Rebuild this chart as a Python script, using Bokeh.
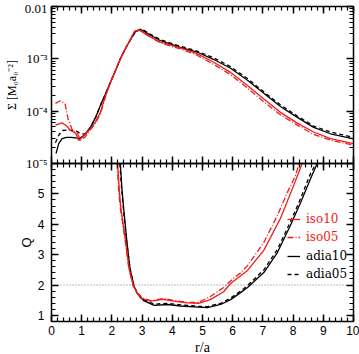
import math
from bokeh.plotting import figure
from bokeh.core.properties import value
from bokeh.models import (Range1d, LogScale, LinearAxis, LogAxis, FixedTicker,
                          CustomJSTickFormatter, Legend, LegendItem, BoxAnnotation)
from bokeh.embed import file_html
from bokeh.resources import INLINE

# ---------------- data ----------------
# Surface density Sigma(r)
r_adia10_s = [0.15, 0.24, 0.35, 0.5, 0.65, 0.8, 0.93, 1.1, 1.29, 1.46, 1.62, 1.79, 1.95, 2.12, 2.28, 2.45,
              2.62, 2.78, 2.95, 3.11, 3.28, 3.6, 4.0, 4.27, 4.82, 5.36, 5.93, 6.49, 7.03, 7.58, 8.14, 8.68, 9.24, 10.0]
s_adia10 = [1.55e-5, 2.4e-5, 3.0e-5, 3.16e-5, 3.16e-5, 3.1e-5, 3.0e-5, 3.55e-5, 4.9e-5, 7.6e-5, 1.29e-4, 2.14e-4,
            3.55e-4, 6.0e-4, 1.0e-3, 1.58e-3, 2.34e-3, 3.3e-3, 3.63e-3, 3.24e-3, 2.82e-3, 2.24e-3, 1.86e-3, 1.66e-3,
            1.35e-3, 9.8e-4, 6.6e-4, 3.9e-4, 2.19e-4, 1.23e-4, 7.6e-5, 4.9e-5, 3.7e-5, 2.95e-5]

r_adia05_s = [0.13, 0.25, 0.37, 0.56, 0.8, 0.96, 1.1, 1.29, 1.46, 1.62, 1.79, 1.95, 2.12, 2.28, 2.45, 2.62, 2.78,
              2.95, 3.11, 3.28, 3.6, 4.0, 4.27, 4.82, 5.36, 5.93, 6.49, 7.03, 7.58, 8.14, 8.68, 9.24, 10.0]
s_adia05 = [2.5e-5, 3.55e-5, 4.27e-5, 4.37e-5, 4.27e-5, 3.7e-5, 3.63e-5, 4.9e-5, 7.6e-5, 1.29e-4, 2.14e-4, 3.55e-4,
            6.0e-4, 1.0e-3, 1.58e-3, 2.34e-3, 3.3e-3, 3.7e-3, 3.4e-3, 2.95e-3, 2.34e-3, 1.95e-3, 1.74e-3, 1.41e-3,
            1.05e-3, 7.1e-4, 4.2e-4, 2.34e-4, 1.32e-4, 8.1e-5, 5.2e-5, 4.0e-5, 3.16e-5]

r_iso10_s = [0.13, 0.35, 0.5, 0.63, 0.8, 0.9, 1.07, 1.3, 1.46, 1.62, 1.79, 1.95, 2.12, 2.28, 2.45, 2.62, 2.75, 2.9,
             3.11, 3.28, 3.6, 4.0, 4.27, 4.82, 5.36, 5.93, 6.49, 7.03, 7.58, 8.14, 8.68, 9.24, 10.0]
s_iso10 = [5.4e-5, 6.0e-5, 5.2e-5, 4.27e-5, 3.8e-5, 2.75e-5, 3.4e-5, 4.7e-5, 6.3e-5, 9.5e-5, 2.0e-4, 3.55e-4, 6.0e-4,
           1.0e-3, 1.58e-3, 2.4e-3, 3.4e-3, 3.55e-3, 3.0e-3, 2.63e-3, 2.1e-3, 1.78e-3, 1.62e-3, 1.26e-3, 8.7e-4,
           5.5e-4, 3.1e-4, 1.7e-4, 9.5e-5, 5.9e-5, 4.0e-5, 3.0e-5, 2.4e-5]

r_iso05_s = [0.13, 0.3, 0.45, 0.55, 0.7, 0.85, 0.96, 1.1, 1.3, 1.46, 1.62, 1.79, 1.95, 2.12, 2.28, 2.45, 2.62, 2.75,
             2.9, 3.11, 3.28, 3.6, 4.0, 4.27, 4.82, 5.36, 5.93, 6.49, 7.03, 7.58, 8.14, 8.68, 9.24, 10.0]
s_iso05 = [1.41e-4, 1.58e-4, 1.38e-4, 7.1e-5, 4.2e-5, 3.8e-5, 2.8e-5, 3.16e-5, 4.5e-5, 6.0e-5, 8.9e-5, 1.9e-4,
           3.47e-4, 6.0e-4, 1.0e-3, 1.58e-3, 2.4e-3, 3.4e-3, 3.55e-3, 3.0e-3, 2.57e-3, 2.04e-3, 1.7e-3, 1.55e-3,
           1.17e-3, 7.9e-4, 5.0e-4, 2.75e-4, 1.51e-4, 8.5e-5, 5.4e-5, 3.6e-5, 2.8e-5, 2.24e-5]

# Toomre Q(r)
r_adia10_q = [2.28, 2.33, 2.39, 2.5, 2.6, 2.73, 2.84, 3.05, 3.4, 3.85, 4.27, 4.87, 5.16, 5.6, 5.93, 6.26, 6.49,
              7.03, 7.48, 7.91, 8.25, 8.58, 8.8]
q_adia10 = [6.0, 5.2, 4.52, 3.40, 2.54, 1.98, 1.72, 1.49, 1.33, 1.36, 1.31, 1.27, 1.26, 1.36, 1.52, 1.75, 1.92,
            2.41, 3.07, 3.96, 4.72, 5.51, 6.0]

r_adia05_q = [2.26, 2.32, 2.38, 2.49, 2.6, 2.72, 2.84, 3.05, 3.4, 3.85, 4.27, 4.87, 5.16, 5.6, 5.93, 6.26, 6.49,
              7.03, 7.48, 7.91, 8.25, 8.58, 8.76]
q_adia05 = [6.0, 5.2, 4.52, 3.40, 2.55, 1.99, 1.74, 1.52, 1.37, 1.40, 1.35, 1.30, 1.29, 1.40, 1.57, 1.80, 1.98,
            2.50, 3.17, 4.08, 4.85, 5.68, 6.0]

r_iso05_q = [2.17, 2.23, 2.28, 2.45, 2.56, 2.7, 2.84, 2.95, 3.28, 3.71, 4.04, 4.5, 4.87, 5.26, 5.7, 6.0, 6.26,
             6.49, 7.03, 7.48, 7.81, 8.08, 8.2]
q_iso05 = [6.0, 5.05, 4.52, 3.40, 2.54, 1.98, 1.75, 1.59, 1.49, 1.56, 1.49, 1.43, 1.43, 1.62, 1.92, 2.2, 2.4,
           2.64, 3.40, 4.29, 5.05, 5.6, 6.0]

r_iso10_q = [2.19, 2.25, 2.3, 2.46, 2.57, 2.71, 2.84, 2.95, 3.28, 3.71, 4.04, 4.5, 4.87, 5.26, 5.7, 5.93, 6.49,
             7.03, 7.58, 8.02, 8.3]
q_iso10 = [6.0, 5.05, 4.52, 3.40, 2.54, 1.98, 1.74, 1.57, 1.47, 1.53, 1.47, 1.41, 1.40, 1.52, 1.78, 2.05, 2.48,
           3.14, 4.19, 5.28, 6.0]

q_threshold = 2.0

x_ticks = [0, 1, 2, 3, 4, 5, 6, 7, 8, 9, 10]
q_ticks = [1, 2, 3, 4, 5]
sig_ticks = [1e-5, 1e-4, 1e-3, 1e-2]
sig_tick_labels = ["10\u207b\u2075", "10\u207b\u2074", "10\u207b\u00b3", "0.01"]
sig_axis_label = "\u03a3 [M\u2080a\u2080\u207b\u00b2]"
q_axis_label = "Q"
x_axis_label = "r/a"

# ---------------- layout (page pixels) ----------------
W, H = 359, 354
PX_L, PX_R = 51, 353           # panel left / right edge
PY_T, PY_SEP, PY_B = 6, 163, 321  # top, separator, bottom
X_LO, X_HI = 0.0, 10.0
Q_LO, Q_SEP = 0.8, 6.0
LOG_TOP, LOG_SEP = -2.0, -5.0

ppx = (PX_R - PX_L) / (X_HI - X_LO)
ppq = (PY_B - PY_SEP) / (Q_SEP - Q_LO)
ppd = (PY_SEP - PY_T) / (LOG_TOP - LOG_SEP)

# the plot frame fills the whole canvas; ranges are extended to the canvas edges
xr = Range1d(X_LO - PX_L / ppx, X_HI + (W - PX_R) / ppx)
yr = Range1d(Q_LO - (H - PY_B) / ppq, Q_LO + PY_B / ppq)
q_top = Q_LO + (PY_B - PY_T) / ppq
sr = Range1d(10 ** (LOG_SEP - (H - PY_SEP) / ppd), 10 ** (LOG_TOP + PY_T / ppd))


def q_at(py):
    return Q_LO + (PY_B - py) / ppq


RED = "#ee1c1c"
BLACK = "#000000"

p = figure(width=W, height=H, x_range=xr, y_range=yr,
           x_axis_location=None, y_axis_location=None,
           output_backend="svg", toolbar_location=None,
           min_border=0, min_border_left=0, min_border_right=0, min_border_top=0, min_border_bottom=0,
           background_fill_color="white", border_fill_color="white")
p.extra_y_ranges = {"sig": sr}
p.extra_y_scales = {"sig": LogScale()}
p.outline_line_color = None
p.grid.visible = False

x_minor = [0.2 * i for i in range(51)]
q_minor = [0.8 + 0.2 * i for i in range(27)]
sig_minor = [m * 10.0 ** e for e in (-5, -4, -3) for m in range(2, 10)]

blank = CustomJSTickFormatter(code="return ''")


def style(ax, tin=7, tout=0, mtin=4, mtout=0):
    ax.axis_line_alpha = 0
    ax.major_tick_line_color = "black"
    ax.major_tick_line_width = 1.5
    ax.minor_tick_line_color = "black"
    ax.minor_tick_line_width = 1.2
    ax.major_tick_in = tin
    ax.major_tick_out = tout
    ax.minor_tick_in = mtin
    ax.minor_tick_out = mtout
    ax.major_label_text_color = "black"


# panel boxes
for bot, top in ((Q_LO, Q_SEP), (Q_SEP, q_top)):
    p.add_layout(BoxAnnotation(left=X_LO, right=X_HI, bottom=bot, top=top,
                               fill_alpha=0, line_color="black", line_width=1.5, line_alpha=1))

# bottom x axis with labels
xb = LinearAxis(ticker=FixedTicker(ticks=x_ticks, minor_ticks=x_minor), fixed_location=Q_LO)
style(xb)
xb.major_label_text_font = "Liberation Sans"
xb.major_label_text_font_size = "12px"
xb.major_label_standoff = 4
p.add_layout(xb, "below")

# separator ticks (both ways)
xs = LinearAxis(ticker=FixedTicker(ticks=x_ticks, minor_ticks=x_minor), fixed_location=Q_SEP, formatter=blank)
style(xs, tin=7, tout=7, mtin=4, mtout=4)
p.add_layout(xs, "below")

# top x ticks
xt = LinearAxis(ticker=FixedTicker(ticks=x_ticks, minor_ticks=x_minor), fixed_location=q_top, formatter=blank)
style(xt)
p.add_layout(xt, "above")

# Q axes
yq = LinearAxis(ticker=FixedTicker(ticks=q_ticks, minor_ticks=q_minor), fixed_location=X_LO)
style(yq)
yq.major_label_text_font = "Liberation Sans"
yq.major_label_text_font_size = "12px"
yq.major_label_standoff = 7
p.add_layout(yq, "left")
yqr = LinearAxis(ticker=FixedTicker(ticks=q_ticks, minor_ticks=q_minor), fixed_location=X_HI, formatter=blank)
style(yqr)
p.add_layout(yqr, "right")

# Sigma axes
sig_fmt = CustomJSTickFormatter(args=dict(labels=sig_tick_labels),
                                code="return labels[Math.round(Math.log10(tick)) + 5];")
ys = LogAxis(y_range_name="sig", ticker=FixedTicker(ticks=sig_ticks, minor_ticks=sig_minor),
             fixed_location=X_LO, formatter=sig_fmt)
style(ys)
ys.major_label_text_font = "Liberation Serif"
ys.major_label_text_font_size = "13px"
ys.major_label_standoff = 4
p.add_layout(ys, "left")
ysr = LogAxis(y_range_name="sig", ticker=FixedTicker(ticks=sig_ticks, minor_ticks=sig_minor),
              fixed_location=X_HI, formatter=blank)
style(ysr)
p.add_layout(ysr, "right")

# axis titles
p.text(x=[(X_LO + X_HI) / 2], y=[q_at(347)], text=[x_axis_label], text_align="center",
       text_baseline="middle", text_color="black",
       text_font=value("Liberation Serif"), text_font_size="14px")
p.text(x=[X_LO], y=[(Q_LO + Q_SEP) / 2], text=[q_axis_label], x_offset=-25, angle=math.pi / 2,
       text_align="center", text_baseline="middle", text_color="black",
       text_font=value("Liberation Sans"), text_font_size="13px")
p.text(x=[X_LO], y=[10 ** ((LOG_TOP + LOG_SEP) / 2)], text=[sig_axis_label], y_range_name="sig",
       x_offset=-40, angle=math.pi / 2, text_align="center", text_baseline="middle", text_color="black",
       text_font=value("Liberation Serif"), text_font_size="12px")

# threshold line Q = 2
p.segment(x0=[X_LO], y0=[q_threshold], x1=[X_HI], y1=[q_threshold],
          line_color="#777777", line_dash="1 2", line_width=1)

LW = 1.3
# Sigma curves
p.line(r_adia10_s, s_adia10, y_range_name="sig", line_color=BLACK, line_width=LW)
p.line(r_adia05_s, s_adia05, y_range_name="sig", line_color=BLACK, line_width=LW, line_dash="4 3")
p.line(r_iso10_s, s_iso10, y_range_name="sig", line_color=RED, line_width=LW)
p.line(r_iso05_s, s_iso05, y_range_name="sig", line_color=RED, line_width=LW, line_dash="6 2 1 2")

# Q curves
ra10 = p.line(r_adia10_q, q_adia10, line_color=BLACK, line_width=LW)
ra05 = p.line(r_adia05_q, q_adia05, line_color=BLACK, line_width=LW, line_dash="4 3")
ri10 = p.line(r_iso10_q, q_iso10, line_color=RED, line_width=LW)
ri05 = p.line(r_iso05_q, q_iso05, line_color=RED, line_width=LW, line_dash="6 2 1 2")


def make_legend(items, loc, color):
    lg = Legend(items=items, location=loc, orientation="vertical")
    lg.background_fill_alpha = 0
    lg.border_line_alpha = 0
    lg.padding = 0
    lg.margin = 0
    lg.spacing = 4
    lg.glyph_width = 13
    lg.glyph_height = 14
    lg.label_height = 14
    lg.label_standoff = 6
    lg.label_text_font = "DejaVu Serif"
    lg.label_text_font_size = "12px"
    lg.label_text_color = color
    return lg


# legend positions: (left, top) measured from the canvas bottom-left
leg_red = make_legend([LegendItem(label="iso10", renderers=[ri10]),
                       LegendItem(label="iso05", renderers=[ri05])], (287, H - 244), RED)
leg_blk = make_legend([LegendItem(label="adia10", renderers=[ra10]),
                       LegendItem(label="adia05", renderers=[ra05])], (287, H - 281), BLACK)
p.add_layout(leg_red)
p.add_layout(leg_blk)

open("out.html", "w").write(file_html(p, INLINE))
